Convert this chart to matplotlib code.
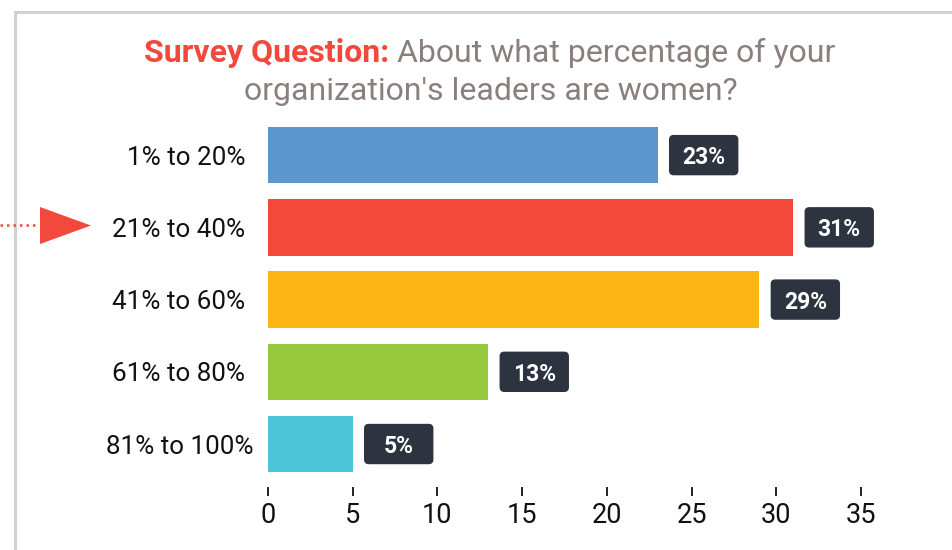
import matplotlib
matplotlib.use("Agg")
import matplotlib.pyplot as plt
from matplotlib.patches import Polygon, FancyBboxPatch
from matplotlib.lines import Line2D
from matplotlib.transforms import Affine2D, ScaledTranslation

categories = ["1% to 20%", "21% to 40%", "41% to 60%", "61% to 80%", "81% to 100%"]
values = [23, 31, 29, 13, 5]
labels = ["23%", "31%", "29%", "13%", "5%"]
colors = ["#5b96cc", "#f2493c", "#fdb515", "#96c93d", "#4dc5d8"]
xticks = [0, 5, 10, 15, 20, 25, 30, 35]
highlight = 1

plt.rcParams['font.family'] = ['Roboto', 'DejaVu Sans']

W, H = 952, 550
fig = plt.figure(figsize=(W / 100, H / 100), dpi=100)

# frame lines
fig.add_artist(Line2D([15 / W, 15 / W], [0, 1 - 12 / H], color="#d6cfcc", lw=2.2, transform=fig.transFigure))
fig.add_artist(Line2D([15 / W, 1], [1 - 12 / H, 1 - 12 / H], color="#d6cfcc", lw=2.2, transform=fig.transFigure))

left, right = 268 / W, 861 / W
top, bottom = 1 - 119 / H, 1 - 487 / H
ax = fig.add_axes([left, bottom, right - left, top - bottom])
y = list(range(len(categories)))
ax.barh(y, values, height=0.78, color=colors)
ax.set_xlim(0, 35)
ax.set_ylim(4.595, -0.5)
ax.set_xticks(xticks)
ax.set_xticklabels([str(t) for t in xticks], fontsize=19.5, color="#111111")
ax.set_yticks(y)
ax.set_yticklabels(categories, fontsize=18.7, color="#111111")
for s in ax.spines.values():
    s.set_visible(False)
ax.tick_params(axis='x', length=6.5, width=1.4, color="#222222", pad=4)
ax.tick_params(axis='y', length=0, pad=16.5)
# longest label sits a bit further right in the reference
last = ax.get_yticklabels()[-1]
last.set_transform(last.get_transform() + ScaledTranslation(8 / 100, 0, fig.dpi_scale_trans))

# value boxes
for yi, v, lab in zip(y, values, labels):
    tr = Affine2D().translate(12, -19.5) + ScaledTranslation(v, yi, ax.transData)
    box = FancyBboxPatch((0, 0), 68, 39, boxstyle="round,pad=0,rounding_size=4",
                         fc="#2d3440", ec="#2d3440", lw=1, transform=tr, clip_on=False)
    ax.add_artist(box)
    trt = Affine2D().translate(12 + 34, 0) + ScaledTranslation(v, yi, ax.transData)
    ax.text(0, 0, lab, transform=trt, ha="center", va="center_baseline", fontsize=16.5,
            fontweight="bold", color="white", clip_on=False)

# arrow marker pointing to highlighted row
yc = 1 - 225.5 / H
tri = Polygon([[40 / W, yc + 18.5 / H], [40 / W, yc - 18.5 / H], [91 / W, yc]], closed=True,
              fc="#f2493c", ec="none", transform=fig.transFigure)
fig.add_artist(tri)
fig.add_artist(Line2D([0, 36 / W], [yc, yc], color="#f2493c", lw=1.8, ls=(0, (1, 1.6)),
                      transform=fig.transFigure))

# title
fig.canvas.draw()
r = fig.canvas.get_renderer()
t1 = fig.text(0, 1 - 62 / H, "Survey Question:", fontsize=23, fontweight="bold", color="#f2493c",
              va="baseline", ha="left")
t2 = fig.text(0, 1 - 62 / H, " About what percentage of your", fontsize=23, color="#8a7f7c",
              va="baseline", ha="left")
w1 = t1.get_window_extent(r).width
w2 = t2.get_window_extent(r).width
cx = 490
x0 = cx - (w1 + w2) / 2
t1.set_x(x0 / W)
t2.set_x((x0 + w1) / W)
fig.text(491 / W, 1 - 100 / H, "organization's leaders are women?", fontsize=23, color="#8a7f7c",
         va="baseline", ha="center")

fig.savefig("out.png", dpi=100)
